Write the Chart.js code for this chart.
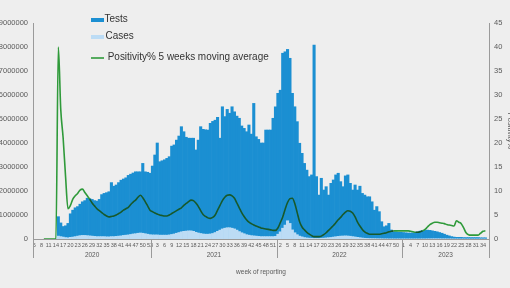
<!DOCTYPE html>
<html>
<head>
<meta charset="utf-8">
<script src="https://cdn.jsdelivr.net/npm/chart.js@4.4.0/dist/chart.umd.min.js"></script>
<style>
  html, body { margin: 0; padding: 0; background: #eeeeee; overflow: hidden; }
  #wrap { position: absolute; left: -6px; top: 0; width: 526px; height: 288px; }
</style>
</head>
<body>
<div id="wrap"><canvas id="chart" width="526" height="288"></canvas></div>
<script>
// reporting years and the week range shown for each
const years = [2020, 2021, 2022, 2023];
const firstWeek = [5, 1, 1, 1];
const lastWeek = [53, 52, 52, 36];

// weekly tests (thousands)
const tests2020 = [null, null, null, null, null, null, null, null, null, null,
  930, 670, 520, 550, 650, 1050, 1200, 1300, 1350, 1450,
  1550, 1600, 1700, 1680, 1650, 1600, 1580, 1650, 1850, 1900,
  1930, 1970, 2350, 2200, 2250, 2350, 2450, 2500, 2550, 2650,
  2700, 2750, 2800, 2800, 2800, 3150, 2800, 2780, 2740];
const tests2021 = [3040, 3500, 4000, 3220, 3260, 3300, 3360, 3430, 3870, 3920,
  4120, 4290, 4680, 4470, 4240, 4200, 4200, 4200, 3710, 4120,
  4680, 4570, 4550, 4540, 4820, 4900, 4950, 5070, 4200, 5510,
  5100, 5400, 5240, 5510, 5300, 5120, 5030, 4710, 4610, 4470,
  4750, 4370, 5650, 4260, 4150, 4000, 4000, 4540, 4540, 4540,
  5030, 5510];
const tests2022 = [6070, 6200, 7740, 7800, 7900, 7530, 6070, 5510, 4890, 3990,
  3570, 3150, 2870, 2600, 2670, 8080, 2600, 1830, 2530, 2040,
  2180, 1830, 2320, 2460, 2670, 2740, 2390, 2180, 2630, 2670,
  2320, 2040, 2250, 2040, 2200, 1900, 1830, 1760, 1760, 1550,
  1200, 1350, 1140, 720, 510, 550, 650, 375, 300, 300,
  280, 280];
const tests2023 = [270, 260, 250, 250, 260, 280, 300, 330, 350, 360,
  370, 360, 340, 320, 300, 270, 240, 200, 160, 130,
  100, 80, 70, 70, 70, 60, 60, 60, 60, 60,
  60, 60, 50, 50, 50, null];

// weekly cases (thousands)
const cases2020 = [null, null, null, null, null, null, null, null, null, null,
  120, 100, 80, 60, 50, 70, 80, 100, 120, 140,
  150, 150, 140, 130, 120, 110, 100, 100, 100, 100,
  90, 90, 100, 100, 110, 120, 130, 150, 160, 170,
  190, 210, 220, 240, 250, 240, 220, 200, 180];
const cases2021 = [170, 170, 170, 160, 160, 160, 160, 170, 190, 210,
  240, 270, 300, 320, 330, 340, 340, 320, 280, 250,
  230, 210, 200, 200, 210, 230, 270, 320, 370, 420,
  450, 470, 470, 450, 420, 370, 310, 260, 220, 180,
  160, 140, 130, 120, 110, 100, 100, 100, 100, 100,
  100, 110];
const cases2022 = [200, 300, 450, 580, 760, 650, 380, 260, 180, 120,
  90, 60, 45, 35, 30, 25, 25, 25, 30, 35,
  45, 55, 65, 80, 95, 110, 120, 125, 130, 125,
  115, 100, 85, 70, 55, 40, 30, 25, 20, 18,
  16, 14, 12, 10, 8, 7, 6, 6, 5, 5,
  5, 5];
const cases2023 = [5, 5, 5, 5, 5, 5, 5, 5, 6, 7,
  8, 10, 11, 12, 12, 11, 10, 9, 8, 7,
  6, 5, 4, 4, 3, 3, 2, 2, 2, 2,
  2, 2, 2, 2, 2, null];

// positivity %, 5 weeks moving average
const pos2020 = [null, null, null, null, 0, 0, 0, 0, 0, 0,
  40, 27, 21, 13, 6.3, 7, 8.3, 9, 9.5, 10.2,
  10.4, 9.7, 9, 8.3, 7.5, 6.9, 6.3, 5.9, 5.5, 5.1,
  4.8, 4.6, 4.7, 4.8, 5, 5.3, 5.6, 6, 6.3, 6.6,
  7.2, 7.7, 8.1, 8.7, 9.1, 8.6, 7.8, 6.9, 6];
const pos2021 = [5.7, 5.4, 5.2, 5.0, 4.9, 4.8, 4.8, 5.0, 5.3, 5.6,
  5.9, 6.2, 6.5, 7.0, 7.4, 7.8, 8.1, 8.0, 7.5, 6.8,
  5.9, 5.1, 4.7, 4.4, 4.3, 4.5, 5.0, 6.0, 7.0, 8.0,
  8.7, 9.1, 9.2, 9.0, 8.5, 7.5, 6.5, 5.5, 4.7, 4.0,
  3.5, 3.2, 2.9, 2.7, 2.5, 2.3, 2.2, 2.1, 2.0, 1.9,
  1.8, 1.8];
const pos2022 = [2.3, 3.4, 4.6, 6.2, 7.6, 8.4, 8.5, 7.4, 5.5, 3.6,
  2.5, 1.9, 1.4, 1.0, 0.7, 0.5, 0.5, 0.5, 0.6, 0.9,
  1.3, 1.8, 2.3, 2.8, 3.4, 4.0, 4.5, 5.1, 5.6, 5.9,
  5.8, 5.4, 4.6, 3.5, 2.7, 2.0, 1.5, 1.2, 1.0, 1.0,
  1.0, 1.0, 1.0, 1.1, 1.2, 1.3, 1.5, 1.6, 1.7, 1.7,
  1.7, 1.7];
const pos2023 = [1.7, 1.7, 1.7, 1.6, 1.5, 1.4, 1.4, 1.5, 1.7, 2.0,
  2.5, 3.0, 3.3, 3.5, 3.5, 3.4, 3.3, 3.2, 3.0, 2.9,
  2.8, 2.7, 3.8, 3.5, 3.2, 2.3, 1.3, 0.9, 0.8, 0.8,
  0.8, 0.8, 1.2, 1.6, 1.7, null];

const leftTicks = [0, 1000000, 2000000, 3000000, 4000000, 5000000, 6000000, 7000000, 8000000, 9000000];
const rightTicks = [0, 5, 10, 15, 20, 25, 30, 35, 40, 45];

const TESTS_BLUE = '#1b8fd2';
const CASES_BLUE = '#bcdcf5';
const GREEN = '#2f9a3a';
const DARK_GREEN = '#17592b';
const AXIS_GREY = '#9a9a9a';
const TEXT_GREY = '#5a5a5a';
const FONT = "'Liberation Sans', Arial, sans-serif";

// build week categories
const weekLabels = [];
years.forEach((yr, k) => {
  for (let w = firstWeek[k]; w <= lastWeek[k]; w++) weekLabels.push(String(w));
});
const tests = [].concat(tests2020, tests2021, tests2022, tests2023).map(v => v === null ? null : v * 1000);
const cases = [].concat(cases2020, cases2021, cases2022, cases2023).map(v => v === null ? null : v * 1000);
const positivity = [].concat(pos2020, pos2021, pos2022, pos2023);

// darker line where it runs over the blue bars
function segColor(ctx) {
  const i = ctx.p0DataIndex, j = ctx.p1DataIndex;
  const bar = ((tests[i] || 0) + (tests[j] || 0)) / 2 / 9000000;
  const line = ((positivity[i] || 0) + (positivity[j] || 0)) / 2 / 45;
  return bar > line ? DARK_GREEN : GREEN;
}

// legend text is narrow in the original, squeeze it horizontally
function narrowText(ctx, text, x, y, sx) {
  ctx.save();
  ctx.translate(x, y);
  ctx.scale(sx, 1);
  ctx.fillText(text, 0, 0);
  ctx.restore();
}

const extras = {
  id: 'extras',
  afterDraw(chart) {
    const { ctx, chartArea, scales: { x } } = chart;
    const half = (x.getPixelForValue(1) - x.getPixelForValue(0)) / 2;
    const bottom = chartArea.bottom;
    ctx.save();
    ctx.strokeStyle = AXIS_GREY;
    ctx.lineWidth = 1;
    ctx.fillStyle = TEXT_GREY;
    ctx.font = '6.5px ' + FONT;
    ctx.textAlign = 'center';
    ctx.textBaseline = 'middle';
    // left axis runs down past the week labels
    ctx.beginPath();
    ctx.moveTo(Math.round(chartArea.left) + 0.5, bottom);
    ctx.lineTo(Math.round(chartArea.left) + 0.5, bottom + 19);
    ctx.stroke();
    let start = 0;
    years.forEach((yr, k) => {
      const n = lastWeek[k] - firstWeek[k] + 1;
      const x0 = x.getPixelForValue(start) - half;
      const x1 = x.getPixelForValue(start + n - 1) + half;
      const xs = Math.round(x1) + 0.5;
      ctx.beginPath();
      ctx.moveTo(xs, bottom);
      ctx.lineTo(xs, bottom + 19);
      ctx.stroke();
      ctx.fillText(String(yr), (x0 + x1) / 2, bottom + 16);
      start += n;
    });

    // legend
    const lx = 97;
    ctx.fillStyle = TESTS_BLUE;
    ctx.fillRect(lx, 18, 13, 4);
    ctx.fillStyle = CASES_BLUE;
    ctx.fillRect(lx, 35, 13, 4);
    ctx.strokeStyle = GREEN;
    ctx.lineWidth = 1.6;
    ctx.beginPath();
    ctx.moveTo(lx, 58);
    ctx.lineTo(lx + 13, 58);
    ctx.stroke();
    ctx.textAlign = 'left';
    ctx.fillStyle = '#333333';
    ctx.font = '11px ' + FONT;
    const sx = 161 / ctx.measureText('Positivity% 5 weeks moving average').width;
    narrowText(ctx, 'Tests', 110.5, 18.5, sx);
    narrowText(ctx, 'Cases', 111.5, 36, sx);
    narrowText(ctx, 'Positivity% 5 weeks moving average', 113.7, 57, sx);
    ctx.restore();
  }
};

new Chart(document.getElementById('chart'), {
  type: 'bar',
  data: {
    labels: weekLabels,
    datasets: [
      {
        type: 'line',
        label: 'Positivity% 5 weeks moving average',
        data: positivity,
        yAxisID: 'y2',
        borderColor: GREEN,
        borderWidth: 1.6,
        pointRadius: 0,
        cubicInterpolationMode: 'monotone',
        segment: { borderColor: segColor },
        order: 0
      },
      {
        label: 'Cases',
        data: cases,
        backgroundColor: CASES_BLUE,
        categoryPercentage: 1,
        barPercentage: 1,
        grouped: false,
        order: 1
      },
      {
        label: 'Tests',
        data: tests,
        backgroundColor: TESTS_BLUE,
        categoryPercentage: 1,
        barPercentage: 1,
        grouped: false,
        order: 2
      }
    ]
  },
  options: {
    responsive: false,
    devicePixelRatio: 1,
    animation: false,
    layout: { padding: { top: 23, left: 0, right: 0, bottom: 0 } },
    plugins: { legend: { display: false }, tooltip: { enabled: false } },
    scales: {
      x: {
        grid: { display: false, drawTicks: false },
        border: { display: true, color: AXIS_GREY },
        ticks: {
          autoSkip: false, maxRotation: 0, minRotation: 0, padding: 3,
          color: TEXT_GREY, font: { size: 5.5, family: FONT },
          callback: (v, i) => (i % 3 === 0 ? weekLabels[i] : '')
        },
        title: {
          display: true, text: 'week of reporting', color: TEXT_GREY,
          font: { size: 6.5, family: FONT }, padding: { top: 0, bottom: 12 }
        },
        afterFit: s => { s.height = 49; }
      },
      y: {
        position: 'left',
        min: 0, max: 9000000,
        grid: { display: false, drawTicks: false },
        border: { display: true, color: AXIS_GREY },
        afterBuildTicks: s => { s.ticks = leftTicks.map(v => ({ value: v })); },
        ticks: { padding: 5, color: TEXT_GREY, font: { size: 7.5, family: FONT }, callback: v => String(v) },
        afterFit: s => { s.width = 39; }
      },
      y2: {
        position: 'right',
        min: 0, max: 45,
        grid: { display: false, drawTicks: false },
        border: { display: true, color: AXIS_GREY },
        afterBuildTicks: s => { s.ticks = rightTicks.map(v => ({ value: v })); },
        ticks: { padding: 5, color: TEXT_GREY, font: { size: 7.5, family: FONT } },
        title: {
          display: true, text: 'Positivity%', color: TEXT_GREY,
          font: { size: 7.5, family: FONT }, padding: { top: 5, bottom: 0 }
        },
        afterFit: s => { s.width = 31; }
      }
    }
  },
  plugins: [extras]
});
</script>
</body>
</html>
